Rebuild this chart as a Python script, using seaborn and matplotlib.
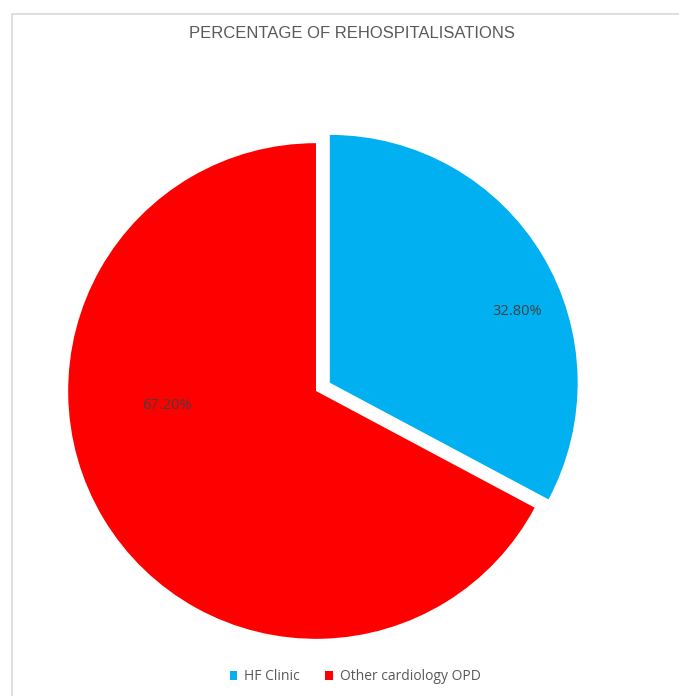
import seaborn as sns
import matplotlib.pyplot as plt
from matplotlib.patches import Rectangle

# data
categories = ["HF Clinic", "Other cardiology OPD"]
shares = [32.80, 67.20]
slice_colors = ["#00B0F0", "#FF0000"]
chart_title = "PERCENTAGE OF REHOSPITALISATIONS"

sns.set_theme(style="white")
plt.rcParams['font.family'] = ['Open Sans', 'DejaVu Sans']

fig = plt.figure(figsize=(6.79, 6.96), dpi=100)
W, H = 679, 696

# chart border (Excel chart area), clipped by the image edges
fig.patches.append(Rectangle((12 / W, -0.05), 1.1, (H - 14) / H + 0.05,
                             transform=fig.transFigure, fill=False,
                             edgecolor="#D9D9D9", linewidth=1.2))

ax = fig.add_axes([31 / W, 20 / H, 570 / W, 570 / H])
wedges, texts, autotexts = ax.pie(
    shares, colors=slice_colors, startangle=90, counterclock=False,
    explode=[0.065, 0], autopct="%.2f%%", pctdistance=0.7,
    wedgeprops=dict(linewidth=0),
    textprops=dict(color="#404040", fontsize=10.5))
ax.set_xlim(-1.15, 1.15)
ax.set_ylim(-1.15, 1.15)
ax.set_aspect("equal")
ax.axis("off")

# Excel puts the value labels in slightly different places than matplotlib
autotexts[0].set_position((0.81, 0.32))
autotexts[1].set_position((-0.60, -0.06))

fig.text(352 / W, 1 - 33 / H, chart_title, ha="center", va="center",
         color="#595959", fontsize=12, family=['Liberation Sans', 'DejaVu Sans'])

leg = fig.legend(wedges, categories, loc="center", ncol=2,
                 bbox_to_anchor=(355 / W, 1 - 677 / H), frameon=False,
                 handlelength=0.55, handleheight=0.55, handletextpad=0.5,
                 columnspacing=1.8, fontsize=10)
for t in leg.get_texts():
    t.set_color("#595959")

fig.savefig("out.png", dpi=100, facecolor="white")
